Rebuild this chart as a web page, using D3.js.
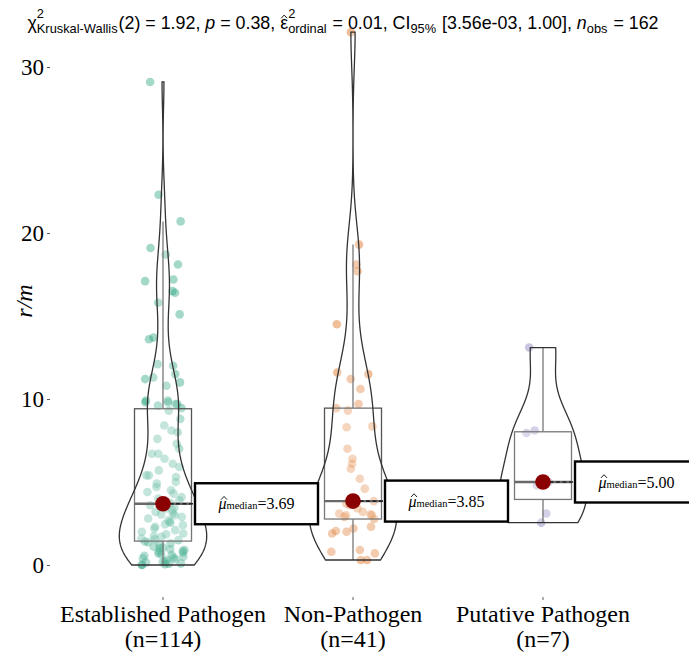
<!DOCTYPE html>
<html>
<head>
<meta charset="utf-8">
<script src="https://cdn.jsdelivr.net/npm/d3@7"></script>
<style>
  body { margin: 0; background: #fff; }
  svg { display: block; }
  text { white-space: pre; }
</style>
</head>
<body>
<svg id="chart" width="689" height="656"></svg>
<script>
// ---- data -------------------------------------------------------------
const groups = ["Established Pathogen", "Non-Pathogen", "Putative Pathogen"];
const groupCounts = [114, 41, 7];
const groupColors = ["#1B9E77", "#D95F02", "#7570B3"];

const established = [
  0.00, 0.02, 0.05, 0.08, 0.10, 0.15, 0.20, 0.22, 0.30, 0.35,
  0.40, 0.45, 0.50, 0.55, 0.60, 0.65, 0.70, 0.75, 0.80, 0.85,
  0.90, 0.95, 1.00, 1.05, 1.10, 1.20, 1.30, 1.38, 1.42, 1.50,
  1.55, 1.60, 1.70, 1.75, 1.85, 1.90, 2.00, 2.10, 2.20, 2.30,
  2.40, 2.45, 2.55, 2.60, 2.70, 2.80, 2.90, 3.00, 3.05, 3.10,
  3.20, 3.30, 3.40, 3.45, 3.50, 3.60, 3.65, 3.73, 3.80, 3.90,
  4.00, 4.10, 4.30, 4.40, 4.50, 4.70, 4.90, 5.00, 5.30, 5.40,
  5.40, 5.70, 5.90, 6.10, 6.40, 6.70, 6.70, 7.00, 7.30, 7.60,
  8.00, 8.10, 8.40, 8.80, 9.30, 9.45, 9.60, 9.70, 9.70, 9.80,
  9.80, 9.90, 9.90, 10.8, 11.0, 11.2, 11.3, 11.5, 12.0, 12.1,
  13.6, 13.7, 15.1, 15.8, 16.4, 16.5, 17.1, 17.2, 18.1, 18.7,
  19.1, 20.7, 22.3, 29.1
];
const nonPathogen = [
  0.30, 0.30, 0.70, 0.80, 0.90, 1.90, 2.00, 2.05, 2.20, 2.30,
  2.77, 2.90, 3.00, 3.00, 3.05, 3.10, 3.20, 3.40, 3.60, 3.70,
  3.85, 4.60, 5.20, 5.80, 6.10, 6.40, 7.00, 8.30, 8.35, 9.30,
  9.45, 9.70, 10.6, 11.2, 11.5, 11.6, 14.5, 17.7, 18.1, 19.3,
  32.1
];
const putative = [2.55, 3.10, 4.80, 5.00, 7.95, 8.10, 13.1];

const medianLabels = [3.69, 3.85, 5.00];
const yTicks = [0, 10, 20, 30];

// ---- setup -------------------------------------------------------------
const svg = d3.select("#chart");
const serif = "'Liberation Serif', 'Times New Roman', serif";
const sans = "'Liberation Sans', Arial, sans-serif";

const x = d3.scaleBand().domain(groups).range([68, 638]).paddingInner(0).paddingOuter(0);
const bw = x.bandwidth();
const cxOf = g => x(g) + bw / 2;
const y = d3.scaleLinear().domain([0, 30]).range([565, 67]);

// kernel bandwidth multiplier per group (applied to the nrd0 rule)
const bandwidthAdjust = [0.72, 1, 1];

const series = [established, nonPathogen, putative].map((vals, i) => ({
  group: groups[i],
  color: groupColors[i],
  values: vals.slice().sort(d3.ascending),
  median: medianLabels[i],
  adjust: bandwidthAdjust[i]
}));

// ---- kernel density (gaussian, nrd0 bandwidth, trimmed to data range) --
function nrd0(v) {
  const sd = d3.deviation(v);
  const iqr = d3.quantile(v, 0.75) - d3.quantile(v, 0.25);
  let lo = Math.min(sd, iqr / 1.34);
  if (!(lo > 0)) lo = sd || Math.abs(v[0]) || 1;
  return 0.9 * lo * Math.pow(v.length, -0.2);
}
function density(v, adjust, m = 512) {
  const h = nrd0(v) * adjust, lo = d3.min(v), hi = d3.max(v);
  const k = u => Math.exp(-0.5 * u * u) / Math.sqrt(2 * Math.PI);
  return d3.range(m).map(i => {
    const t = lo + (hi - lo) * i / (m - 1);
    return [t, d3.mean(v, d => k((t - d) / h)) / h];
  });
}
series.forEach(s => {
  s.dens = density(s.values, s.adjust);
  s.maxDens = d3.max(s.dens, d => d[1]);
});
const violinHalf = 0.23 * bw;   // each violin scaled to the same maximum width

// ---- deterministic jitter ---------------------------------------------
let seed = 12345;
function rand() { seed = (seed * 1664525 + 1013904223) % 4294967296; return seed / 4294967296; }

// ---- rich text helper (scripts, hats, mixed sizes) ----------------------
function layoutRich(g, pieces, base, script) {
  g.selectAll("*").remove();
  let cur = 0;
  pieces.forEach(p => {
    if (p.t !== undefined) {
      const size = p.small ? script : base;
      const t = g.append("text").attr("x", cur).attr("y", 0).style("font-size", size + "px").text(p.t);
      if (p.italic) t.style("font-style", "italic");
      const w = t.node().getComputedTextLength();
      if (p.hat) {
        const hx = cur + w / 2 + (p.italic ? 1.5 : 0), hy = -base * 0.6;
        g.append("path").attr("d", `M${hx - 3},${hy} L${hx},${hy - 3.2} L${hx + 3},${hy}`)
          .attr("fill", "none").attr("stroke", "#000").attr("stroke-width", 0.9);
      }
      cur += w;
    } else {
      let w = 0;
      if (p.sup) {
        const s = g.append("text").attr("x", cur).attr("y", -base * 0.62).style("font-size", script + "px").text(p.sup);
        w = Math.max(w, s.node().getComputedTextLength());
      }
      if (p.sub) {
        const s = g.append("text").attr("x", cur).attr("y", base * 0.2).style("font-size", script + "px").text(p.sub);
        w = Math.max(w, s.node().getComputedTextLength());
      }
      cur += w + 1;
    }
  });
  return cur;
}

// ---- axes ---------------------------------------------------------------
const yAxis = svg.append("g")
  .attr("transform", "translate(50,0)")
  .call(d3.axisLeft(y).tickValues(yTicks).tickSize(3).tickPadding(3).tickFormat(d3.format("d")));
yAxis.select(".domain").remove();
yAxis.selectAll(".tick line").attr("stroke", "#333").attr("stroke-width", 0.8);
yAxis.selectAll(".tick text")
  .style("font-family", serif).style("font-size", "23px").attr("fill", "#000").attr("dy", "0.34em");

const xAxis = svg.append("g")
  .attr("transform", "translate(0,597)")
  .call(d3.axisBottom(x).tickSize(3).tickFormat(""));
xAxis.select(".domain").remove();
xAxis.selectAll(".tick line").attr("stroke", "#333").attr("stroke-width", 0.8);
xAxis.selectAll(".tick").each(function (g, i) {
  const t = d3.select(this).append("text")
    .attr("text-anchor", "middle").attr("fill", "#000")
    .style("font-family", serif).style("font-size", "24px");
  t.append("tspan").attr("x", 0).attr("y", 25).text(g);
  t.append("tspan").attr("x", 0).attr("y", 50).text(`(n=${groupCounts[i]})`);
});

svg.append("text")
  .attr("transform", `translate(32,${(y(0) + y(30)) / 2 - 15}) rotate(-90)`)
  .attr("text-anchor", "middle")
  .style("font-family", serif).style("font-size", "24px").style("font-style", "italic")
  .text("r/m");

// ---- marks --------------------------------------------------------------
const plot = svg.append("g");

// jittered points
series.forEach(s => {
  const cx = cxOf(s.group);
  plot.append("g").selectAll("circle").data(s.values).join("circle")
    .attr("cx", () => cx + (rand() * 2 - 1) * 0.115 * bw)
    .attr("cy", d => y(d))
    .attr("r", 4.3)
    .attr("fill", s.color)
    .attr("fill-opacity", 0.4);
});

// box plots
series.forEach(s => {
  const cx = cxOf(s.group);
  const v = s.values;
  const q1 = d3.quantile(v, 0.25), q3 = d3.quantile(v, 0.75);
  const iqr = q3 - q1;
  const hiW = d3.max(v.filter(d => d <= q3 + 1.5 * iqr));
  const loW = d3.min(v.filter(d => d >= q1 - 1.5 * iqr));
  const half = 0.15 * bw;
  const g = plot.append("g").attr("stroke", "#555").attr("stroke-width", 1.3).attr("fill", "none");
  g.append("line").attr("x1", cx).attr("x2", cx).attr("y1", y(q3)).attr("y2", y(hiW));
  g.append("line").attr("x1", cx).attr("x2", cx).attr("y1", y(q1)).attr("y2", y(loW));
  g.append("rect").attr("x", cx - half).attr("width", 2 * half)
    .attr("y", y(q3)).attr("height", y(q1) - y(q3))
    .attr("fill", "#fff").attr("fill-opacity", 0.2);
  g.append("line").attr("x1", cx - half).attr("x2", cx + half)
    .attr("y1", y(s.median)).attr("y2", y(s.median))
    .attr("stroke", "#444").attr("stroke-width", 2.4);
});

// violins
const violinArea = d3.area().curve(d3.curveLinear);
series.forEach(s => {
  const cx = cxOf(s.group);
  violinArea
    .y(d => y(d[0]))
    .x0(d => cx - violinHalf * d[1] / s.maxDens)
    .x1(d => cx + violinHalf * d[1] / s.maxDens);
  plot.append("path").attr("d", violinArea(s.dens))
    .attr("fill", "#fff").attr("fill-opacity", 0.2)
    .attr("stroke", "#333").attr("stroke-width", 1.3);
});

// median points and labels
series.forEach(s => {
  const cx = cxOf(s.group);
  const my = y(s.median);
  const bx = cx + 32, bwid = 123, bh = 41;
  plot.append("line").attr("x1", cx).attr("x2", bx).attr("y1", my).attr("y2", my)
    .attr("stroke", "#222").attr("stroke-width", 1.6).attr("stroke-dasharray", "4,2.5");
  plot.append("circle").attr("cx", cx).attr("cy", my).attr("r", 7.8).attr("fill", "#8B0000");
  plot.append("rect").attr("x", bx).attr("y", my - bh / 2).attr("width", bwid).attr("height", bh)
    .attr("fill", "#fff").attr("stroke", "#000").attr("stroke-width", 2.4);
  const lg = plot.append("g").style("font-family", serif).attr("fill", "#000");
  const lw = layoutRich(lg, [
    { t: "μ", italic: true, hat: true },
    { t: "median", small: true },
    { t: "=" + d3.format(".2f")(s.median) }
  ], 16, 10.5);
  lg.attr("transform", `translate(${bx + bwid / 2 - lw / 2},${my + 5.5})`);
});

// ---- subtitle with statistical details -----------------------------------
const subtitlePieces = [
  { t: "χ" }, { sup: "2", sub: "Kruskal-Wallis" },
  { t: "(2) = 1.92, " }, { t: "p", italic: true }, { t: " = 0.38, " },
  { t: "ε", hat: true }, { sup: "2", sub: "ordinal" },
  { t: " = 0.01, CI" }, { sub: "95%" },
  { t: " [3.56e-03, 1.00], " }, { t: "n", italic: true }, { sub: "obs" },
  { t: " = 162" }
];
const sub = svg.append("g").style("font-family", sans).attr("fill", "#000");
let baseSize = 17;
let total = layoutRich(sub, subtitlePieces, baseSize, baseSize * 0.72);
baseSize = baseSize * 632 / total;
total = layoutRich(sub, subtitlePieces, baseSize, baseSize * 0.72);
sub.attr("transform", `translate(${343 - total / 2},29)`);
</script>
</body>
</html>
